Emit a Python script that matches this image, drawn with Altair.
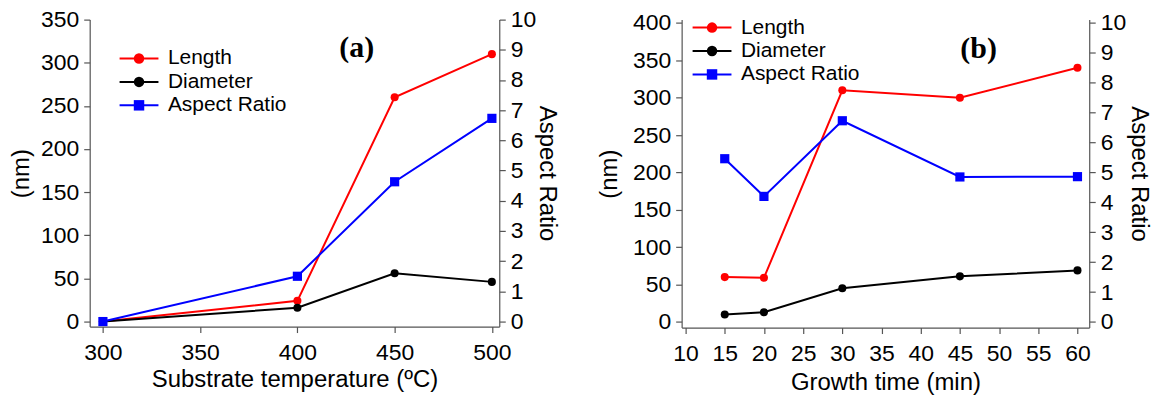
import altair as alt
import pandas as pd

# ---------------- data ----------------
series = ["Length", "Diameter", "Aspect Ratio"]
colors_a = ["#ff0000", "#000000", "#0000ff"]
colors_b = ["#ff0000", "#000000", "#0000d0"]
shapes = ["circle", "circle", "square"]

temp = [300, 400, 450, 500]
length_a = [0, 24, 260, 310]
diam_a = [0, 16, 56, 46]
ar_a = [0, 1.5, 4.63, 6.73]

gtime = [15, 20, 30, 45, 60]
length_b = [60, 59, 310, 300, 340]
diam_b = [10, 13, 45, 61, 69]
ar_b = [5.46, 4.2, 6.73, 4.85, 4.86]

xticks_a = [300, 350, 400, 450, 500]
xticks_b = [10, 15, 20, 25, 30, 35, 40, 45, 50, 55, 60]
yticks_a = [0, 50, 100, 150, 200, 250, 300, 350]
yticks_b = [0, 50, 100, 150, 200, 250, 300, 350, 400]
rticks = [0, 1, 2, 3, 4, 5, 6, 7, 8, 9, 10]

FONT = "Liberation Sans"


def panel(xs, L, D, A, xdom, xticks, xtitle, ydomL, yticksL, ydomR,
          W, H, tag, tagx, tagy, legx, legy, colors, ltx, rtx, xty):
    dfL = pd.DataFrame({
        "x": xs + xs,
        "value": L + D,
        "series": ["Length"] * len(xs) + ["Diameter"] * len(xs),
    })
    dfR = pd.DataFrame({"x": xs, "value": A, "series": ["Aspect Ratio"] * len(xs)})
    dfLeg = pd.DataFrame({"series": series})

    color = alt.Color("series:N", scale=alt.Scale(domain=series, range=colors), legend=None)
    shape = alt.Shape("series:N", scale=alt.Scale(domain=series, range=shapes), legend=None)
    xenc = alt.X("x:Q", scale=alt.Scale(domain=xdom, nice=False, zero=False),
                 axis=alt.Axis(values=xticks, title=xtitle, format="d",
                               titleX=W / 2, titleY=xty, titleBaseline="middle"))

    baseL = alt.Chart(dfL).encode(
        x=xenc,
        y=alt.Y("value:Q", scale=alt.Scale(domain=ydomL, nice=False, zero=False),
                axis=alt.Axis(orient="left", values=yticksL, title="(nm)", format="d",
                              titleX=ltx, titleY=H / 2, titleAngle=270,
                              titleBaseline="middle")),
        color=color,
    )
    left = alt.layer(
        baseL.mark_line(strokeWidth=2),
        baseL.mark_point(filled=True, size=65, opacity=1).encode(shape=shape),
    )
    baseR = alt.Chart(dfR).encode(
        x=xenc,
        y=alt.Y("value:Q", scale=alt.Scale(domain=ydomR, nice=False, zero=False),
                axis=alt.Axis(orient="right", values=rticks, title="Aspect Ratio", format="d",
                              titleX=rtx, titleY=H / 2, titleAngle=90,
                              titleBaseline="middle")),
        color=color,
    )
    right = alt.layer(
        baseR.mark_line(strokeWidth=2),
        baseR.mark_point(filled=True, size=85, opacity=1).encode(shape=shape),
    )

    ly = alt.Y("series:N", scale=alt.Scale(type="point", domain=series,
                                            range=[legy, legy + 47], padding=0), axis=None)
    leg_rule = alt.Chart(dfLeg).mark_rule(strokeWidth=2).encode(
        x=alt.value(legx), x2=alt.value(legx + 39), y=ly, color=color)
    leg_pt = alt.Chart(dfLeg).mark_point(filled=True, size=110, opacity=1).encode(
        x=alt.value(legx + 19.5), y=ly, color=color, shape=shape)
    leg_txt = alt.Chart(dfLeg).mark_text(align="left", baseline="middle", fontSize=21,
                                         font=FONT, color="black").encode(
        x=alt.value(legx + 48.5), y=ly, text="series:N")

    tagc = alt.Chart(pd.DataFrame({"t": [tag]})).mark_text(
        font="Liberation Serif", fontWeight="bold", fontSize=30, align="center",
        baseline="middle", color="black").encode(
        x=alt.value(tagx), y=alt.value(tagy), text="t:N")

    return alt.layer(left, right, leg_rule, leg_pt, leg_txt, tagc).resolve_scale(
        y="independent").properties(width=W, height=H)


pa = panel(temp, length_a, diam_a, ar_a, [293.2, 503.8], xticks_a,
           "Substrate temperature (\u00baC)", [-5.8, 350], yticks_a, [-5.8 / 35, 10],
           411, 308, "(a)", 268, 29, 30, 39, colors_a, -68, 47, 53)
pb = panel(gtime, length_b, diam_b, ar_b, [9.5, 61.5], xticks_b,
           "Growth time (min)", [-7.5, 404.5], yticks_b, [-7.5 / 40, 404.5 / 40],
           409, 309, "(b)", 298, 30, 11, 8, colors_b, -72, 49, 55)

chart = alt.hconcat(pa, pb, spacing=40).properties(
    padding={"left": 10, "top": 8, "right": 5, "bottom": 5},
    background="white",
).configure_view(stroke=None).configure_axis(
    grid=False,
    domainColor="#555555",
    tickColor="#555555",
    domainWidth=1.2,
    tickWidth=1.2,
    tickSize=6,
    labelFont=FONT,
    labelFontSize=23,
    labelColor="black",
    titleFont=FONT,
    titleFontSize=24,
    titleFontWeight="normal",
    titleColor="black",
).configure_axisX(labelPadding=9).configure_axisY(labelPadding=5)

chart.save("out.html", embed_options={"renderer": "svg", "actions": False})
